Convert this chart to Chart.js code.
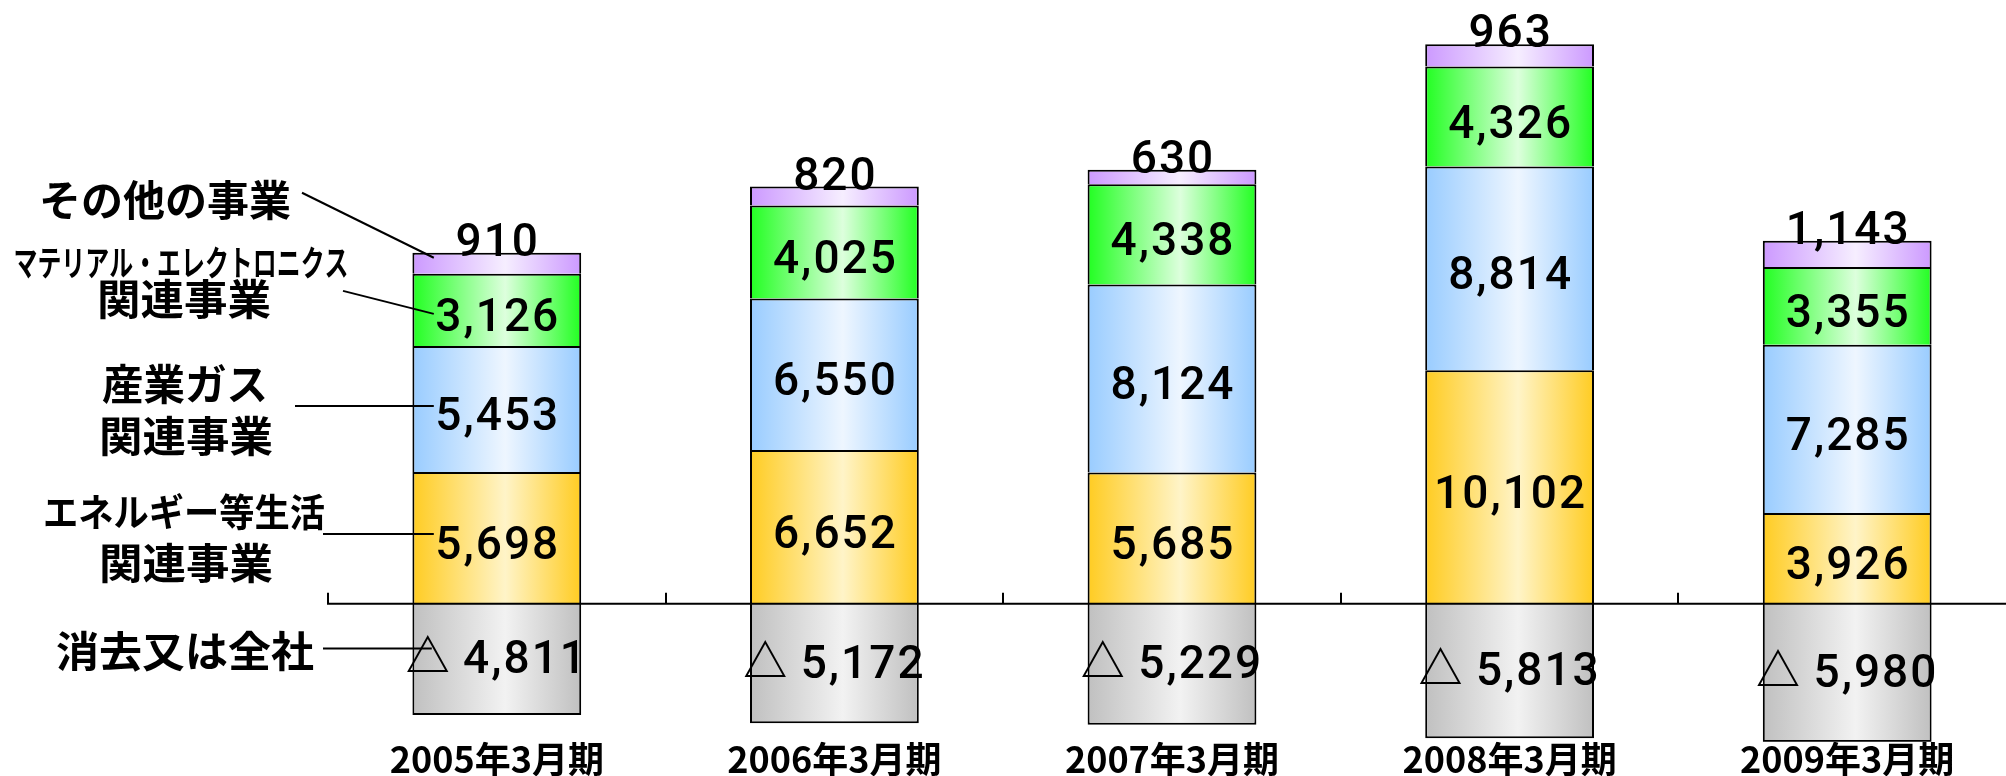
<!DOCTYPE html>
<html lang="ja">
<head>
<meta charset="utf-8">
<script src="https://cdn.jsdelivr.net/npm/chart.js@4.4.1/dist/chart.umd.min.js"></script>
<style>
html,body{margin:0;padding:0;background:#fff;overflow:hidden;}
/* the plot runs slightly past the right edge of the window, as in the original */
#wrap{width:2016px;height:776px;position:relative;}
</style>
</head>
<body>
<div id="wrap"><canvas id="myChart"></canvas></div>
<script>
// segment sales by fiscal year (million yen)
const periods = ["2005年3月期", "2006年3月期", "2007年3月期", "2008年3月期", "2009年3月期"];
const energyValues = [5698, 6652, 5685, 10102, 3926];
const gasValues = [5453, 6550, 8124, 8814, 7285];
const materialValues = [3126, 4025, 4338, 4326, 3355];
const otherValues = [910, 820, 630, 963, 1143];
const elimValues = [-4811, -5172, -5229, -5813, -5980];
const seriesNames = ["エネルギー等生活関連事業", "産業ガス関連事業", "マテリアル・エレクトロニクス関連事業", "その他の事業", "消去又は全社"];

const NUM_FONT = 'Roboto, "Noto Sans CJK JP", sans-serif';
const JP_FONT = '"Noto Sans CJK JP", sans-serif';

function fmt(v){
  return Math.abs(v).toLocaleString("en-US");
}

// horizontal shading: saturated edges, pale middle
function barGradient(edge, mid){
  return function(c){
    const chart = c.chart;
    const xs = chart.scales.x;
    if(c.type !== "data" || !xs || !chart.chartArea) return edge;
    const x = xs.getPixelForValue(c.dataIndex);
    const hw = xs.width / periods.length * 0.25;
    const g = chart.ctx.createLinearGradient(x - hw, 0, x + hw, 0);
    g.addColorStop(0, edge);
    g.addColorStop(0.55, mid);
    g.addColorStop(1, edge);
    return g;
  };
}

function fitText(ctx, text, cx, cy, size, width){
  ctx.font = "bold " + size + "px " + JP_FONT;
  const w = ctx.measureText(text).width;
  ctx.save();
  ctx.translate(cx, cy);
  ctx.scale(width / w, 1);
  ctx.fillText(text, 0, 0);
  ctx.restore();
}

function line(ctx, x1, y1, x2, y2){
  ctx.beginPath();
  ctx.moveTo(x1, y1);
  ctx.lineTo(x2, y2);
  ctx.stroke();
}

const annotate = {
  id: "annotate",
  afterDatasetsDraw(chart){
    const ctx = chart.ctx;
    const xs = chart.scales.x, ys = chart.scales.y;
    const zero = ys.getPixelForValue(0);
    ctx.save();
    ctx.strokeStyle = "#000";
    ctx.fillStyle = "#000";
    ctx.lineWidth = 2;

    // zero line with small ticks between the years
    ctx.beginPath();
    ctx.moveTo(xs.left, zero);
    ctx.lineTo(chart.width, zero);
    const step = xs.width / periods.length;
    for(let i = 0; i < periods.length; i++){
      const tx = Math.round(xs.left + i * step);
      ctx.moveTo(tx, zero + 1);
      ctx.lineTo(tx, zero - 11);
    }
    ctx.stroke();

    // value labels
    const numFont = "500 46px " + NUM_FONT;
    const triFont = "bold 44px " + JP_FONT;
    ctx.textBaseline = "alphabetic";
    chart.data.datasets.forEach(function(ds, di){
      const meta = chart.getDatasetMeta(di);
      meta.data.forEach(function(el, i){
        const v = ds.data[i];
        const mid = (el.y + el.base) / 2;
        ctx.font = numFont;
        ctx.letterSpacing = "2px";
        ctx.textAlign = "center";
        if(di === 3){
          ctx.fillText(fmt(v), el.x + 1, el.y + 3);
        } else if(di === 4){
          // "△ 4,811": triangle mark in a heavier face, then the number
          const num = " " + fmt(v);
          const wNum = ctx.measureText(num).width;
          ctx.letterSpacing = "0px";
          ctx.font = triFont;
          const wTri = ctx.measureText("△").width;
          const x0 = el.x - (wTri + wNum) / 2;
          ctx.textAlign = "left";
          ctx.fillText("△", x0, mid + 13);
          ctx.font = numFont;
          ctx.letterSpacing = "2px";
          ctx.fillText(num, x0 + wTri, mid + 14);
        } else {
          ctx.fillText(fmt(v), el.x + 1, mid + 21);
        }
      });
    });
    ctx.letterSpacing = "0px";
    ctx.textAlign = "center";

    // series names on the left with leader lines to the first bar
    ctx.textBaseline = "middle";
    const first = function(di){ return chart.getDatasetMeta(di).data[0]; };
    const midOf = function(el){ return (el.y + el.base) / 2; };

    let el = first(3);
    let top = el.y;
    fitText(ctx, "その他の事業", 165, top - 53, 42, 252);
    line(ctx, 302, top - 60, el.x - 63, top + 5);

    el = first(2);
    let c = midOf(el);
    fitText(ctx, "マテリアル・エレクトロニクス", 181, c - 47, 35, 335);
    fitText(ctx, "関連事業", 184, c - 11, 42, 174);
    line(ctx, 343, c - 19, el.x - 63, c + 4);

    el = first(1);
    c = midOf(el);
    fitText(ctx, "産業ガス", 185, c - 25, 42, 166);
    fitText(ctx, "関連事業", 186, c + 27, 42, 174);
    line(ctx, 295, c - 3, el.x - 63, c - 3);

    el = first(0);
    c = midOf(el);
    fitText(ctx, "エネルギー等生活", 184, c - 26, 38, 282);
    fitText(ctx, "関連事業", 186, c + 25, 42, 174);
    line(ctx, 323, c - 4, el.x - 63, c - 4);

    el = first(4);
    c = midOf(el);
    fitText(ctx, "消去又は全社", 185, c - 8, 42, 258);
    line(ctx, 323, c - 11, el.x - 65, c - 11);

    ctx.restore();
  }
};

function series(label, values, edge, mid){
  return {
    label: label,
    data: values,
    backgroundColor: barGradient(edge, mid),
    borderColor: "#000",
    borderWidth: 2,
    borderSkipped: "start",
    categoryPercentage: 1.0,
    barPercentage: 0.5
  };
}

new Chart("myChart", {
  type: "bar",
  data: {
    labels: periods,
    datasets: [
      series(seriesNames[0], energyValues, "#FFCC22", "#FFF4C8"),
      series(seriesNames[1], gasValues, "#99CCFF", "#EEF6FF"),
      series(seriesNames[2], materialValues, "#22FF22", "#DDFFDD"),
      series(seriesNames[3], otherValues, "#CC99FF", "#F6EEFF"),
      series(seriesNames[4], elimValues, "#C0C0C0", "#F2F2F2")
    ]
  },
  options: {
    responsive: true,
    maintainAspectRatio: false,
    animation: false,
    devicePixelRatio: 1,
    layout: {padding: {left: 328, right: 0, top: 0, bottom: 0}},
    plugins: {
      legend: {display: false},
      tooltip: {enabled: false}
    },
    scales: {
      x: {
        stacked: true,
        offset: true,
        grid: {display: false, drawTicks: false},
        border: {display: false},
        ticks: {
          color: "#000",
          padding: 0,
          maxRotation: 0,
          autoSkip: false,
          font: {family: JP_FONT, size: 36, weight: "bold", lineHeight: 0.95}
        }
      },
      y: {
        display: false,
        stacked: true,
        min: -5970,
        max: 26120
      }
    }
  },
  plugins: [annotate]
});
</script>
</body>
</html>
